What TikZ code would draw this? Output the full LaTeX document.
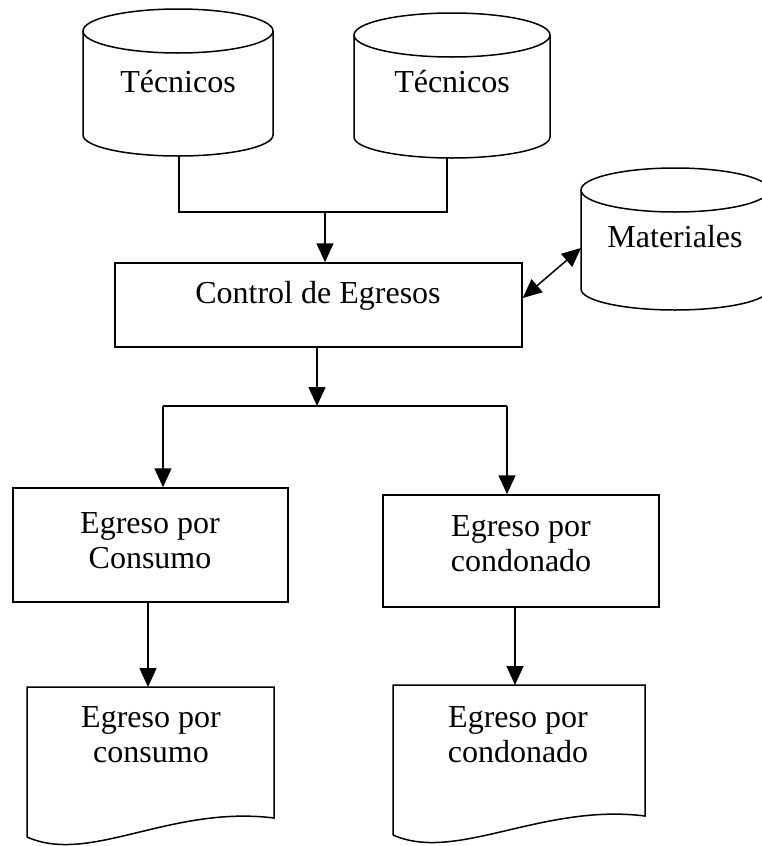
\documentclass[tikz,border=0pt]{standalone}
\usepackage{fontspec}
\setmainfont{Liberation Serif}
\usetikzlibrary{arrows.meta}
\begin{document}
\begin{tikzpicture}[x=1pt,y=1pt, line width=1.5pt,
  tip/.tip={Triangle[length=19pt,width=17pt]},
  arr/.style={-tip},
  darr/.style={tip-tip},
  lbl/.style={font=\fontsize{32}{35}\selectfont, align=center, inner sep=0pt},
  boxstyle/.style={draw, rectangle, inner sep=0pt}]
\useasboundingbox (0,0) rectangle (761,-846);

% --- databases (cylinders) ---
\draw (83,-31) -- (83,-135) arc[start angle=180, end angle=360, x radius=95, y radius=21] -- (273,-31);
\draw (178,-31) ellipse[x radius=95, y radius=22];
\node[lbl] (t1) at (178,-82) {Técnicos};
\coordinate (c1b) at (179,-156);

\draw (354,-35) -- (354,-137) arc[start angle=180, end angle=360, x radius=98, y radius=21] -- (550,-35);
\draw (452,-35) ellipse[x radius=98, y radius=22];
\node[lbl] (t2) at (452,-82) {Técnicos};
\coordinate (c2b) at (447,-158);

\draw (581,-190) -- (581,-289) arc[start angle=180, end angle=360, x radius=94, y radius=21] -- (769,-190);
\draw (675,-190) ellipse[x radius=94, y radius=22];
\node[lbl] (t3) at (675,-237) {Materiales};
\coordinate (mleft) at (581,-248);

% --- process boxes ---
\node[boxstyle, minimum width=407pt, minimum height=84pt] (ctrl) at (318.5,-305) {};
\node[lbl] (ctrlt) at (318,-296) {Control de Egresos};

\node[boxstyle, minimum width=275pt, minimum height=114pt] (b1) at (150.5,-545) {};
\node[lbl] (b1t) at (150,-541) {Egreso por\\Consumo};

\node[boxstyle, minimum width=276pt, minimum height=112pt] (b2) at (521,-551) {};
\node[lbl] (b2t) at (521,-544) {Egreso por\\condonado};

% --- documents ---
\draw (27,-837) -- (27,-687) -- (274,-687) -- (274,-818)
  .. controls (170,-805) and (90,-865) .. (27,-837);
\node[lbl] (d1t) at (151,-735) {Egreso por\\consumo};
\coordinate (d1n) at (148,-687);

\draw (393,-835) -- (393,-685) -- (645,-685) -- (645,-816)
  .. controls (542,-803) and (456,-863) .. (393,-835);
\node[lbl] (d2t) at (518,-735) {Egreso por\\condonado};
\coordinate (d2n) at (515,-685);

% --- connectors ---
\coordinate (j1) at (325,-212);
\draw (c1b) -- (c1b |- j1) -- (c2b |- j1) -- (c2b);
\draw[arr] (j1) -- (j1 |- ctrl.north);

\coordinate (j2) at (317,-406);
\coordinate (jl) at (163,-406);
\coordinate (jr) at (507,-406);
\draw[arr] (ctrl.south -| j2) -- (j2);
\draw (jl) -- (jr);
\draw[arr] (jl) -- (jl |- b1.north);
\draw[arr] (jr) -- (jr |- b2.north);

\draw[arr] (b1.south -| d1n) -- (d1n);
\draw[arr] (b2.south -| d2n) -- (d2n);

\coordinate (ya) at (0,-298);
\draw[darr] (ctrl.east |- ya) -- (mleft);
\end{tikzpicture}
\end{document}
